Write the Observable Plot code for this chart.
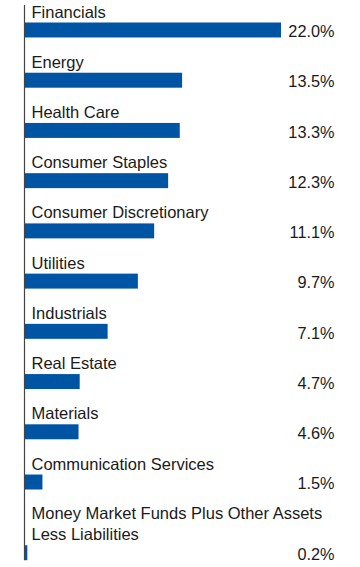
<!DOCTYPE html>
<html>
<head>
<meta charset="utf-8">
<script src="https://cdn.jsdelivr.net/npm/d3@7"></script>
<script src="https://cdn.jsdelivr.net/npm/@observablehq/plot@0.6"></script>
<style>
  html, body { margin: 0; padding: 0; background: #fff; }
  #chart svg { display: block; }
</style>
</head>
<body>
<div id="chart"></div>
<script>
// Data
const sectors = [
  "Financials",
  "Energy",
  "Health Care",
  "Consumer Staples",
  "Consumer Discretionary",
  "Utilities",
  "Industrials",
  "Real Estate",
  "Materials",
  "Communication Services",
  "Money Market Funds Plus Other Assets\nLess Liabilities"
];
const values = [22.0, 13.5, 13.3, 12.3, 11.1, 9.7, 7.1, 4.7, 4.6, 1.5, 0.2];

// Layout units (one unit = one text line)
const BAR = 0.73;   // bar thickness
const GAP = 0.72;   // space below a bar before next label

let cursor = 0;
const rows = sectors.map((s, i) => {
  const lines = s.split("\n").length;
  const top = cursor + lines;          // bar top
  const row = {sector: s, value: values[i], label: values[i].toFixed(1) + "%",
               top, bottom: top + BAR, mid: top + BAR / 2};
  cursor = top + BAR + GAP;
  return row;
});

const FONT = "'Liberation Sans', Arial, Helvetica, sans-serif";

const chart = Plot.plot({
  width: 360,
  height: 567,
  marginLeft: 0,
  marginRight: 26,
  marginTop: 0,
  marginBottom: 0,
  style: {fontFamily: FONT, fontSize: "16px", color: "#1a1a1a", background: "#fff"},
  x: {domain: [0, 22], range: [25, 281], axis: null},
  y: {domain: [0, 27.5], range: [2, 2 + 27.5 * 20.5], axis: null},
  marks: [
    Plot.rectX(rows, {x: "value", y1: "top", y2: "bottom", fill: "#0054a4"}),
    Plot.ruleX([0], {y1: rows[0].top - 1 + 0.15, y2: rows[rows.length - 1].bottom, dx: -1, stroke: "#444", strokeWidth: 1.2}),
    Plot.text(rows, {x: 0, y: "top", text: "sector", textAnchor: "start", lineAnchor: "bottom",
                     lineHeight: 1.28, dx: 6, dy: -5.5, fill: "#1a1a1a", fontSize: 16.5}),
    Plot.text(rows, {frameAnchor: "right", y: "mid", text: "label", textAnchor: "end",
                     lineAnchor: "middle", dy: 1.5, fill: "#1a1a1a", fontSize: 16.3})
  ]
});

document.getElementById("chart").appendChild(chart);
</script>
</body>
</html>
